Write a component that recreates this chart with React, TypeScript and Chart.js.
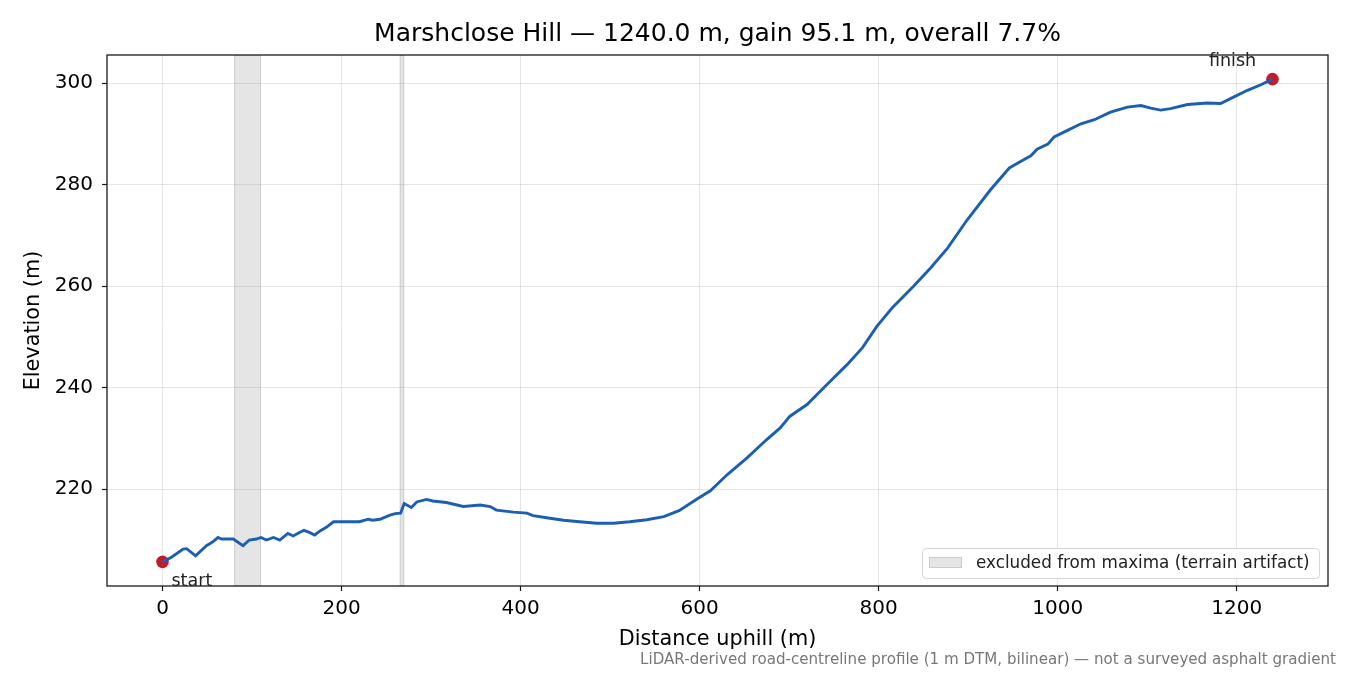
import React, { useEffect, useRef } from "react";
import { Chart, registerables } from "chart.js";

Chart.register(...registerables);

const distances = [0, 10, 23, 27, 37, 49, 55, 62, 66, 79, 90, 97, 105, 110, 116, 124, 131, 140, 146, 153, 158, 164, 170, 176, 183, 191, 198, 220, 230, 235, 243, 254, 260, 266, 270, 278, 284, 295, 302, 317, 336, 355, 366, 373, 392, 407, 414, 429, 448, 466, 485, 504, 522, 541, 560, 577, 598, 612, 631, 653, 675, 690, 701, 720, 742, 765, 782, 798, 815, 839, 858, 877, 899, 925, 946, 960, 970, 977, 989, 996, 1011, 1026, 1041, 1059, 1078, 1093, 1104, 1115, 1126, 1145, 1167, 1182, 1197, 1212, 1227, 1240];
const elevations = [205.7, 206.6, 208.2, 208.3, 206.9, 208.9, 209.5, 210.5, 210.2, 210.2, 208.9, 210.0, 210.2, 210.5, 210.0, 210.5, 210.0, 211.3, 210.8, 211.5, 211.9, 211.5, 211.0, 211.8, 212.5, 213.6, 213.6, 213.6, 214.1, 213.9, 214.1, 214.9, 215.2, 215.3, 217.2, 216.4, 217.5, 218.0, 217.7, 217.4, 216.6, 216.9, 216.6, 215.9, 215.5, 215.3, 214.8, 214.4, 213.9, 213.6, 213.3, 213.3, 213.6, 214.0, 214.6, 215.8, 218.2, 219.7, 222.9, 226.2, 229.8, 232.1, 234.4, 236.7, 240.6, 244.6, 247.9, 252.1, 255.7, 260.0, 263.6, 267.5, 273.1, 279.0, 283.3, 284.7, 285.7, 287.0, 288.0, 289.4, 290.7, 292.0, 292.8, 294.3, 295.3, 295.6, 295.1, 294.7, 295.0, 295.8, 296.1, 296.0, 297.3, 298.6, 299.7, 300.8];

const excludedStarts = [80, 265];
const excludedEnds = [110, 270];

const xTicks = [0, 200, 400, 600, 800, 1000, 1200];
const yTicks = [220, 240, 260, 280, 300];

const titleText = "Marshclose Hill \u2014 1240.0 m, gain 95.1 m, overall 7.7%";
const xLabel = "Distance uphill (m)";
const yLabel = "Elevation (m)";
const legendLabel = "excluded from maxima (terrain artifact)";
const footnote = "LiDAR-derived road-centreline profile (1 m DTM, bilinear) \u2014 not a surveyed asphalt gradient";
const startLabel = "start";
const finishLabel = "finish";

const FONT = "'DejaVu Sans', sans-serif";

export default function App() {
  const ref = useRef<HTMLCanvasElement | null>(null);

  useEffect(() => {
    document.body.style.margin = "0";
    const canvas = ref.current;
    if (!canvas) return;

    const xSpan = distances[distances.length - 1] - distances[0];
    const xMin = distances[0] - xSpan * 0.05;
    const xMax = distances[distances.length - 1] + xSpan * 0.05;
    const eMin = Math.min(...elevations);
    const eMax = Math.max(...elevations);
    const ySpan = eMax - eMin;
    const yMin = eMin - ySpan * 0.05;
    const yMax = eMax + ySpan * 0.05;

    const profile = distances.map((d, i) => ({ x: d, y: elevations[i] }));
    const ends = [profile[0], profile[profile.length - 1]];

    const decor = {
      id: "decor",
      beforeDatasetsDraw(chart: any) {
        const { ctx, chartArea: a, scales } = chart;
        const xs = scales.x;
        ctx.save();
        ctx.beginPath();
        ctx.rect(a.left, a.top, a.right - a.left, a.bottom - a.top);
        ctx.clip();
        excludedStarts.forEach((s, i) => {
          const x0 = xs.getPixelForValue(s);
          const x1 = xs.getPixelForValue(excludedEnds[i]);
          ctx.fillStyle = "rgba(150,150,150,0.25)";
          ctx.fillRect(x0, a.top, x1 - x0, a.bottom - a.top);
          ctx.strokeStyle = "rgba(150,150,150,0.3)";
          ctx.lineWidth = 1;
          ctx.strokeRect(x0 + 0.5, a.top, x1 - x0 - 1, a.bottom - a.top);
        });
        ctx.restore();
      },
      afterDraw(chart: any) {
        const { ctx, chartArea: a, scales } = chart;
        const xs = scales.x;
        const ys = scales.y;
        ctx.save();
        // frame
        ctx.strokeStyle = "#1a1a1a";
        ctx.lineWidth = 1.3;
        ctx.strokeRect(a.left, a.top, a.right - a.left, a.bottom - a.top);

        // title
        ctx.fillStyle = "#000";
        ctx.font = `25px ${FONT}`;
        ctx.textAlign = "center";
        ctx.textBaseline = "middle";
        ctx.fillText(titleText, (a.left + a.right) / 2, 34);

        // axis labels
        ctx.font = `20.8px ${FONT}`;
        ctx.fillText(xLabel, (a.left + a.right) / 2, 640);
        ctx.save();
        ctx.translate(34, (a.top + a.bottom) / 2);
        ctx.rotate(-Math.PI / 2);
        ctx.fillText(yLabel, 0, 0);
        ctx.restore();

        // start / finish labels
        const sx = xs.getPixelForValue(ends[0].x);
        const sy = ys.getPixelForValue(ends[0].y);
        const fx = xs.getPixelForValue(ends[1].x);
        const fy = ys.getPixelForValue(ends[1].y);
        ctx.font = `17.5px ${FONT}`;
        ctx.fillStyle = "#222";
        ctx.textAlign = "left";
        ctx.fillText(startLabel, sx + 9, sy + 20);
        ctx.textAlign = "center";
        ctx.fillText(finishLabel, fx - 40, fy - 18);

        // legend
        const lw = 397;
        const lh = 30;
        const lx = a.right - 9 - lw;
        const ly = a.bottom - 8 - lh;
        ctx.fillStyle = "rgba(255,255,255,0.85)";
        ctx.strokeStyle = "#d6d6d6";
        ctx.lineWidth = 1;
        ctx.beginPath();
        (ctx as any).roundRect(lx + 0.5, ly + 0.5, lw, lh, 4);
        ctx.fill();
        ctx.stroke();
        ctx.fillStyle = "rgba(150,150,150,0.25)";
        ctx.fillRect(lx + 7, ly + 9, 33, 11);
        ctx.strokeStyle = "rgba(150,150,150,0.3)";
        ctx.strokeRect(lx + 7.5, ly + 9.5, 32, 10);
        ctx.fillStyle = "#222";
        ctx.font = `16.8px ${FONT}`;
        ctx.textAlign = "left";
        ctx.fillText(legendLabel, lx + 54, ly + 15.5);

        // footnote
        ctx.fillStyle = "#777";
        ctx.font = `15.1px ${FONT}`;
        ctx.textAlign = "right";
        ctx.fillText(footnote, 1336, 660);
        ctx.restore();
      },
    };

    const chart = new Chart(canvas, {
      type: "line",
      data: {
        datasets: [
          {
            data: profile,
            borderColor: "#1b5fb5",
            borderWidth: 2.9,
            pointRadius: 0,
            tension: 0,
            fill: false,
          },
          {
            type: "scatter",
            data: ends,
            backgroundColor: "#c41b27",
            borderColor: "#c41b27",
            pointRadius: 6.3,
            borderWidth: 0,
          } as any,
        ],
      },
      options: {
        responsive: false,
        animation: false,
        devicePixelRatio: 1,
        layout: { padding: { left: 0, right: 22, top: 55, bottom: 0 } },
        plugins: {
          legend: { display: false },
          title: { display: false },
          tooltip: { enabled: false },
        },
        scales: {
          x: {
            type: "linear",
            min: xMin,
            max: xMax,
            afterBuildTicks: (s: any) => {
              s.ticks = xTicks.map((v) => ({ value: v }));
            },
            afterFit: (s: any) => {
              s.height = 89;
            },
            grid: {
              color: "rgba(0,0,0,0.1)",
              lineWidth: 1,
              tickLength: 5,
              tickColor: "#1a1a1a",
              tickWidth: 1.2,
            },
            border: { display: false },
            ticks: {
              color: "#000",
              font: { family: FONT, size: 20 },
              padding: 6,
              maxRotation: 0,
              callback: (v: any) => String(v),
            },
          },
          y: {
            type: "linear",
            min: yMin,
            max: yMax,
            afterBuildTicks: (s: any) => {
              s.ticks = yTicks.map((v) => ({ value: v }));
            },
            afterFit: (s: any) => {
              s.width = 107;
            },
            grid: {
              color: "rgba(0,0,0,0.1)",
              lineWidth: 1,
              tickLength: 5,
              tickColor: "#1a1a1a",
              tickWidth: 1.2,
            },
            border: { display: false },
            ticks: {
              color: "#000",
              font: { family: FONT, size: 20 },
              padding: 9,
              callback: (v: any) => String(v),
            },
          },
        },
      },
      plugins: [decor],
    } as any);

    return () => chart.destroy();
  }, []);

  return (
    <div style={{ width: 1350, height: 675, background: "#fff" }}>
      <canvas ref={ref} width={1350} height={675} style={{ display: "block" }} />
    </div>
  );
}
